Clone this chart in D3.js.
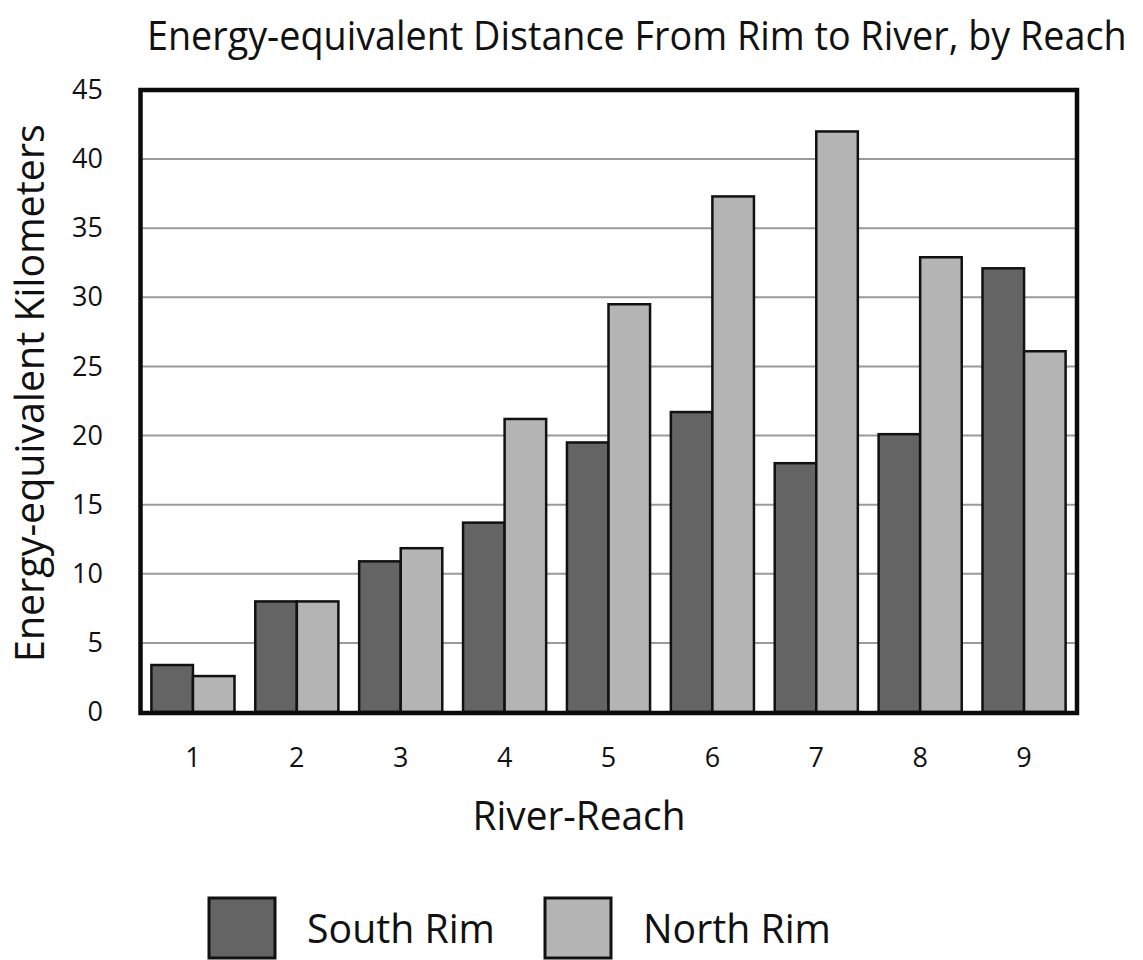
<!DOCTYPE html>
<html>
<head>
<meta charset="utf-8">
<script src="https://cdn.jsdelivr.net/npm/d3@7"></script>
<style>
  html, body { margin: 0; padding: 0; background: #fff; }
  svg { display: block; }
  text { font-family: "Open Sans", "Noto Sans", sans-serif; fill: #111; }
</style>
</head>
<body>
<svg id="chart" width="1143" height="960"></svg>
<script>
// River reaches and the energy-equivalent km for each rim
const reaches = ["1", "2", "3", "4", "5", "6", "7", "8", "9"];
const southRim = [3.4, 8.0, 10.9, 13.7, 19.5, 21.7, 18.0, 20.1, 32.1];
const northRim = [2.6, 8.0, 11.85, 21.2, 29.5, 37.3, 42.0, 32.9, 26.1];
const seriesNames = ["South Rim", "North Rim"];
const seriesColors = ["#646464", "#b4b4b4"];
const yTicks = [0, 5, 10, 15, 20, 25, 30, 35, 40, 45];

const svg = d3.select("#chart");
const plot = { left: 141, right: 1076, top: 90, bottom: 712 };

const x = d3.scaleBand().domain(reaches).range([plot.left, plot.right]).paddingInner(0.2).paddingOuter(0.1);
const xInner = d3.scaleBand().domain(seriesNames).range([0, x.bandwidth()]);
const y = d3.scaleLinear().domain([0, 45]).range([plot.bottom, plot.top]);

// Text squeezed horizontally to a given width (narrow humanist look)
function fittedText(parent, str, px, cx, cy, width, anchor, rotate) {
  const g = parent.append("g").attr("transform", `translate(${cx},${cy})${rotate ? ` rotate(${rotate})` : ""}`);
  const t = g.append("text").style("font-size", px + "px").text(str);
  const natural = t.node().getComputedTextLength();
  const k = width / natural;
  const offset = anchor === "middle" ? -width / 2 : 0;
  t.attr("transform", `translate(${offset},0) scale(${k},1)`);
  return t;
}

// horizontal gridlines
svg.append("g")
  .selectAll("line")
  .data(yTicks.filter(t => t > 0 && t < 45))
  .join("line")
  .attr("x1", plot.left).attr("x2", plot.right)
  .attr("y1", d => y(d)).attr("y2", d => y(d))
  .attr("stroke", "#9a9a9a").attr("stroke-width", 2);

// bars
const rows = reaches.map((r, i) => ({ reach: r, values: [southRim[i], northRim[i]] }));
svg.append("g")
  .selectAll("g")
  .data(rows)
  .join("g")
  .attr("transform", d => `translate(${x(d.reach)},0)`)
  .selectAll("rect")
  .data(d => d.values.map((v, k) => ({ name: seriesNames[k], value: v, color: seriesColors[k] })))
  .join("rect")
  .attr("x", d => xInner(d.name))
  .attr("width", xInner.bandwidth())
  .attr("y", d => y(d.value))
  .attr("height", d => y(0) - y(d.value))
  .attr("fill", d => d.color)
  .attr("stroke", "#111")
  .attr("stroke-width", 2.5);

// frame around the plot area
svg.append("rect")
  .attr("x", plot.left - 0.5).attr("y", plot.top)
  .attr("width", plot.right - plot.left + 1.5).attr("height", plot.bottom - plot.top + 1)
  .attr("fill", "none").attr("stroke", "#0b0b0b").attr("stroke-width", 4.5);

// y axis tick labels
const yAxis = svg.append("g")
  .attr("transform", `translate(${plot.left - 38},0)`)
  .call(d3.axisLeft(y).tickValues(yTicks).tickSize(0).tickPadding(0));
yAxis.select(".domain").remove();
yAxis.selectAll("text")
  .style("font-family", "'Open Sans', sans-serif")
  .style("font-size", "27px")
  .attr("fill", "#111");

// x axis tick labels
const xAxis = svg.append("g")
  .attr("transform", `translate(0,${plot.bottom + 36})`)
  .call(d3.axisBottom(x).tickSize(0).tickPadding(0));
xAxis.select(".domain").remove();
xAxis.selectAll("text")
  .style("font-family", "'Open Sans', sans-serif")
  .style("font-size", "27px")
  .attr("fill", "#111");

// title
fittedText(svg, "Energy-equivalent Distance From Rim to River, by Reach", 41, 147, 50, 980, "start");

// axis titles
fittedText(svg, "Energy-equivalent Kilometers", 40, 44, 393, 538, "middle", -90);
fittedText(svg, "River-Reach", 40, 579, 830, 213, "middle");

// legend
const legendX = [209, 545];
seriesNames.forEach((name, i) => {
  const g = svg.append("g").attr("transform", `translate(${legendX[i]},898)`);
  g.append("rect")
    .attr("width", 66).attr("height", 60)
    .attr("fill", seriesColors[i])
    .attr("stroke", "#111").attr("stroke-width", 3);
  fittedText(g, name, 40, 98, 45, 188, "start");
});
</script>
</body>
</html>
